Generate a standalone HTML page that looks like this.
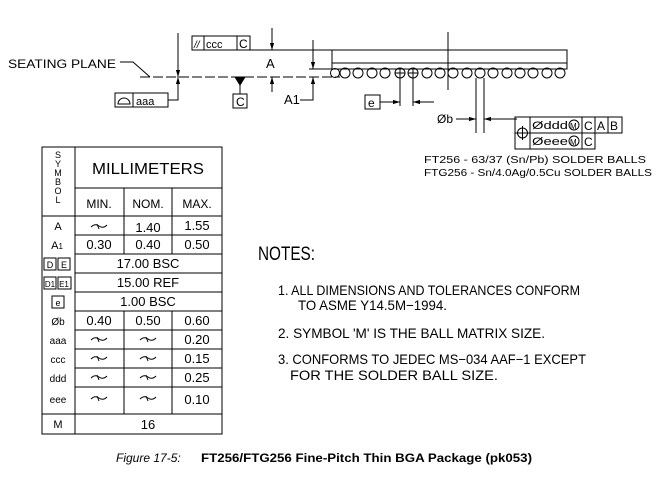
<!DOCTYPE html>
<html><head><meta charset="utf-8"><style>
body{margin:0;background:#fff;}
svg{display:block;}
text{font-family:"Liberation Sans",sans-serif;fill:#000;}
</style></head><body>
<svg width="658" height="485" viewBox="0 0 658 485" xmlns="http://www.w3.org/2000/svg">
<defs>
<marker id="ar" viewBox="0 0 10 10" refX="10" refY="5" markerWidth="7" markerHeight="7" orient="auto-start-reverse"><path d="M0,2 L10,5 L0,8 z" fill="#000"/></marker>
</defs>
<g stroke="#000" stroke-width="1" fill="none">
<rect x="332" y="50" width="235" height="19"/>
<line x1="332" y1="63" x2="567" y2="63"/>
<line x1="250" y1="50" x2="332" y2="50"/>
<line x1="309" y1="69" x2="332" y2="69"/>
<line x1="140" y1="77" x2="340" y2="77" stroke-dasharray="10,3"/>
<polyline points="120,62 133,62 150,77"/>
<g>
<circle cx="335" cy="73" r="4.5"/><circle cx="345" cy="73" r="5"/><circle cx="358" cy="73" r="5"/><circle cx="372" cy="73" r="5"/><circle cx="385" cy="73" r="5"/>
<circle cx="400" cy="73" r="5"/><circle cx="413" cy="73" r="5"/><circle cx="427" cy="73" r="5"/><circle cx="440" cy="73" r="5"/><circle cx="453" cy="73" r="5"/>
<circle cx="467" cy="73" r="5"/><circle cx="480" cy="73" r="5"/><circle cx="493" cy="73" r="5"/><circle cx="507" cy="73" r="5"/><circle cx="520" cy="73" r="5"/>
<circle cx="533" cy="73" r="5"/><circle cx="547" cy="73" r="5"/><circle cx="560" cy="73" r="5"/>
</g>
<line x1="395" y1="73" x2="405" y2="73"/><line x1="400" y1="68" x2="400" y2="78"/>
<line x1="408" y1="73" x2="418" y2="73"/><line x1="413" y1="68" x2="413" y2="78"/>
<line x1="448" y1="32" x2="448" y2="90"/>
<rect x="365" y="95" width="15" height="14"/>
<line x1="400" y1="78" x2="400" y2="106"/><line x1="413" y1="78" x2="413" y2="106"/>
<line x1="380" y1="102" x2="400" y2="102" marker-end="url(#ar)"/>
<line x1="434" y1="102" x2="413" y2="102" marker-end="url(#ar)"/>
<line x1="476" y1="78" x2="476" y2="133"/><line x1="484" y1="78" x2="484" y2="133"/>
<line x1="456" y1="119" x2="476" y2="119" marker-end="url(#ar)"/>
<line x1="517" y1="119" x2="484" y2="119" marker-end="url(#ar)"/>
<rect x="515" y="117" width="107" height="16"/>
<rect x="515" y="117" width="80" height="32"/>
<line x1="530" y1="117" x2="530" y2="149"/>
<line x1="582" y1="117" x2="582" y2="149"/>
<line x1="608" y1="117" x2="608" y2="133"/>
<circle cx="522.5" cy="133" r="5"/><line x1="516" y1="133" x2="529" y2="133"/><line x1="522.5" y1="126" x2="522.5" y2="140"/>
<circle cx="574" cy="125" r="5"/><circle cx="574" cy="141" r="5"/>
<rect x="192" y="36" width="58" height="14"/>
<line x1="204" y1="36" x2="204" y2="50"/><line x1="237" y1="36" x2="237" y2="50"/>
<rect x="115" y="93" width="53" height="14"/>
<line x1="133" y1="93" x2="133" y2="107"/>
<path d="M118,104 A6,6 0 0 1 130,104 Z"/>
<line x1="178" y1="33" x2="178" y2="77" marker-end="url(#ar)"/>
<polyline points="168,100 178,100 178,77" marker-end="url(#ar)"/>
<path d="M235,77 L245,77 L240,85 Z" fill="#000"/>
<line x1="240" y1="85" x2="240" y2="94"/>
<rect x="233" y="94" width="14" height="14"/>
<line x1="272" y1="28" x2="272" y2="50" marker-end="url(#ar)"/>
<line x1="272" y1="92" x2="272" y2="77" marker-end="url(#ar)"/>
<line x1="313" y1="40" x2="313" y2="69" marker-end="url(#ar)"/>
<polyline points="300,100 313,100 313,77" marker-end="url(#ar)"/>
<rect x="42" y="147" width="180" height="287"/>
<line x1="75" y1="147" x2="75" y2="434"/>
<line x1="75" y1="188" x2="222" y2="188"/>
<line x1="42" y1="216" x2="222" y2="216"/>
<line x1="124" y1="188" x2="124" y2="254"/><line x1="172" y1="188" x2="172" y2="254"/>
<line x1="124" y1="311" x2="124" y2="414"/><line x1="172" y1="311" x2="172" y2="414"/>
<line x1="75" y1="235" x2="222" y2="235"/>
<line x1="75" y1="254" x2="222" y2="254"/>
<line x1="75" y1="273" x2="222" y2="273"/>
<line x1="75" y1="292" x2="222" y2="292"/>
<line x1="75" y1="311" x2="222" y2="311"/>
<line x1="75" y1="330" x2="222" y2="330"/>
<line x1="75" y1="349" x2="222" y2="349"/>
<line x1="75" y1="368" x2="222" y2="368"/>
<line x1="75" y1="387" x2="222" y2="387"/>
<line x1="75" y1="414" x2="222" y2="414"/>
<line x1="42" y1="414" x2="75" y2="414"/>
<rect x="44" y="258" width="12" height="12"/><rect x="58" y="258" width="12" height="12"/>
<rect x="44" y="277" width="12" height="12"/><rect x="58" y="277" width="13" height="12"/>
<rect x="52" y="296" width="12" height="12"/>
</g>
<g stroke="#000" stroke-width="1" fill="none">
<path d="M91,227 q4,-4 8,-1 q4,3 8,-1 M97,224 l2,5"/>
<path d="M91,340 q4,-4 8,-1 q4,3 8,-1 M97,337 l2,5 M140,340 q4,-4 8,-1 q4,3 8,-1 M146,337 l2,5"/>
<path d="M91,359 q4,-4 8,-1 q4,3 8,-1 M97,356 l2,5 M140,359 q4,-4 8,-1 q4,3 8,-1 M146,356 l2,5"/>
<path d="M91,378 q4,-4 8,-1 q4,3 8,-1 M97,375 l2,5 M140,378 q4,-4 8,-1 q4,3 8,-1 M146,375 l2,5"/>
<path d="M91,399 q4,-4 8,-1 q4,3 8,-1 M97,396 l2,5 M140,399 q4,-4 8,-1 q4,3 8,-1 M146,396 l2,5"/>
</g>
<g font-size="12">
<text x="8" y="68" textLength="108" lengthAdjust="spacingAndGlyphs">SEATING PLANE</text>
<text x="266" y="68" font-size="13">A</text>
<text x="284" y="104" font-size="13">A1</text>
<text x="206" y="48" font-size="11">ccc</text><text x="194" y="48" font-size="10" font-style="italic">//</text>
<text x="239" y="48" font-size="12">C</text>
<text x="236" y="106" font-size="12">C</text>
<text x="136" y="105" font-size="11">aaa</text>
<text x="368" y="107" font-size="12">e</text>
<text x="437" y="123" font-size="12">Øb</text>
<text x="532" y="129" font-size="11" textLength="36" lengthAdjust="spacingAndGlyphs">Øddd</text>
<text x="570" y="129" font-size="8">M</text>
<text x="584" y="130" font-size="12">C</text><text x="597" y="130" font-size="12">A</text><text x="610" y="130" font-size="12">B</text>
<text x="532" y="145" font-size="11" textLength="36" lengthAdjust="spacingAndGlyphs">Øeee</text>
<text x="570" y="145" font-size="8">M</text>
<text x="584" y="146" font-size="12">C</text>
<text x="424" y="163" font-size="10" textLength="222" lengthAdjust="spacingAndGlyphs">FT256 - 63/37 (Sn/Pb) SOLDER BALLS</text>
<text x="424" y="176" font-size="10" textLength="228" lengthAdjust="spacingAndGlyphs">FTG256 - Sn/4.0Ag/0.5Cu SOLDER BALLS</text>
</g>
<g font-size="12" text-anchor="middle">
<text x="58" y="158" font-size="9">S</text><text x="58" y="167" font-size="9">Y</text><text x="58" y="176" font-size="9">M</text><text x="58" y="185" font-size="9">B</text><text x="58" y="194" font-size="9">O</text><text x="58" y="203" font-size="9">L</text>
<text x="148" y="174" font-size="16" textLength="112" lengthAdjust="spacingAndGlyphs">MILLIMETERS</text>
<text x="99" y="208">MIN.</text><text x="148" y="208">NOM.</text><text x="197" y="208">MAX.</text>
<text x="58" y="230" font-size="11">A</text><text x="148" y="232" font-size="13">1.40</text><text x="197" y="230" font-size="13">1.55</text>
<text x="57" y="249" font-size="11">A<tspan font-size="8">1</tspan></text><text x="99" y="249" font-size="13">0.30</text><text x="148" y="249" font-size="13">0.40</text><text x="197" y="249" font-size="13">0.50</text>
<text x="50" y="268" font-size="9">D</text><text x="64" y="268" font-size="9">E</text><text x="148" y="268" font-size="13">17.00  BSC</text>
<text x="50" y="287" font-size="8">D1</text><text x="64" y="287" font-size="8">E1</text><text x="148" y="287" font-size="13">15.00  REF</text>
<text x="58" y="306" font-size="9">e</text><text x="148" y="306" font-size="13">1.00  BSC</text>
<text x="58" y="325" font-size="10">Øb</text><text x="99" y="325" font-size="13">0.40</text><text x="148" y="325" font-size="13">0.50</text><text x="197" y="325" font-size="13">0.60</text>
<text x="58" y="344" font-size="10">aaa</text><text x="197" y="344" font-size="13">0.20</text>
<text x="58" y="363" font-size="10">ccc</text><text x="197" y="363" font-size="13">0.15</text>
<text x="58" y="382" font-size="10">ddd</text><text x="197" y="382" font-size="13">0.25</text>
<text x="58" y="403" font-size="10">eee</text><text x="197" y="404" font-size="13">0.10</text>
<text x="58" y="428" font-size="11">M</text><text x="148" y="429" font-size="13">16</text>
</g>
<text x="258" y="260" font-size="19" textLength="57" lengthAdjust="spacingAndGlyphs">NOTES:</text>
<g font-size="14">
<text x="278" y="295" textLength="302" lengthAdjust="spacingAndGlyphs">1. ALL DIMENSIONS AND TOLERANCES CONFORM</text>
<text x="298" y="310" textLength="149" lengthAdjust="spacingAndGlyphs">TO ASME Y14.5M−1994.</text>
<text x="278" y="338" textLength="267" lengthAdjust="spacingAndGlyphs">2. SYMBOL 'M' IS THE BALL MATRIX SIZE.</text>
<text x="278" y="364" textLength="308" lengthAdjust="spacingAndGlyphs">3. CONFORMS TO JEDEC MS−034 AAF−1 EXCEPT</text>
<text x="290" y="380" textLength="208" lengthAdjust="spacingAndGlyphs">FOR THE SOLDER BALL SIZE.</text>
</g>
<text x="116" y="462" font-size="12" font-style="italic">Figure 17-5:</text>
<text x="201" y="462" font-size="12" font-weight="bold" textLength="331" lengthAdjust="spacingAndGlyphs">FT256/FTG256 Fine-Pitch Thin BGA Package (pk053)</text>
</svg>
</body></html>
